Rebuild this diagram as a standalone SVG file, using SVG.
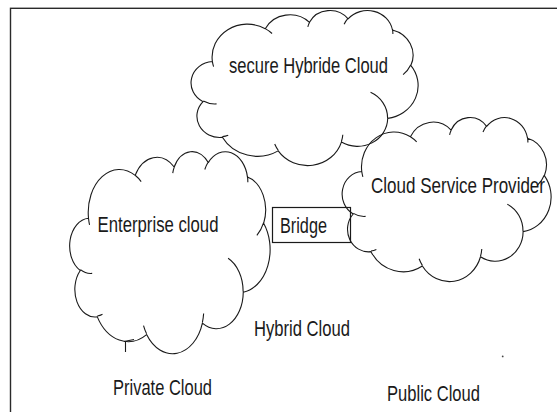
<svg xmlns="http://www.w3.org/2000/svg" xmlns:xlink="http://www.w3.org/1999/xlink" width="557" height="412" viewBox="0 0 557 412">
  <defs>
    <style>
      .cloud { fill: none; stroke: #1a1a1a; stroke-width: 1.1; vector-effect: non-scaling-stroke; stroke-linejoin: round; }
      .frame { fill: none; stroke: #2a2a2a; stroke-width: 1.4; }
      .box { fill: none; stroke: #1a1a1a; stroke-width: 1.2; }
      .lbl { font-family: "Liberation Sans Narrow", "Liberation Sans", Arial, sans-serif; font-size: 21.5px; fill: #1a1a1a; }
    </style>
    <!-- Office-style cloud outline in a 43200 x 43200 unit box, plus its inner lobe strokes -->
    <path id="cloud" class="cloud" d="
      M 3900 14370
      A 6753 9190 0 0 1 14005 5202
      A 5333 7267 0 0 1 22457 3432
      A 4365 5945 0 0 1 29836 2482
      A 4857 6595 0 0 1 38322 5577
      A 5333 7273 0 0 1 41822 15461
      A 6775 9220 0 0 1 37407 30203
      A 5785 7867 0 0 1 28559 36814
      A 6752 9215 0 0 1 16484 39267
      A 7720 10543 0 0 1 5807 35473
      A 4360 5918 0 0 1 2117 25549
      A 4345 5945 0 0 1 3900 14370 Z
      M 4693 26177 A 4345 5945 0 0 1 2160 25380
      M 6928 34899 A 4360 5918 0 0 1 5819 35281
      M 16478 39090 A 6752 9215 0 0 1 15810 37347
      M 28827 34751 A 6752 9215 0 0 1 28560 36660
      M 34129 22954 A 5785 7867 0 0 1 37381 30090
      M 41798 15354 A 5333 7273 0 0 1 40350 18030
      M 38324 5426 A 4857 6595 0 0 1 38400 6690
      M 29078 3952 A 4857 6595 0 0 1 29820 2340
      M 22141 4720 A 4365 5945 0 0 1 22500 3331
      M 14000 5192 A 6753 9190 0 0 1 15302 6543
      M 4127 15789 A 6753 9190 0 0 1 3900 14370"/>
  </defs>

  <rect width="557" height="412" fill="#ffffff"/>

  <!-- outer frame, running off the right and bottom edges -->
  <rect class="frame" x="10.5" y="8.3" width="600" height="460"/>

  <g id="secure-hybride-cloud">
    <use xlink:href="#cloud" href="#cloud" transform="translate(192,10) scale(0.0052315,0.0035880)"/>
    <text class="lbl" x="229" y="72.5" textLength="159" lengthAdjust="spacingAndGlyphs">secure Hybride Cloud</text>
  </g>

  <g id="enterprise-cloud">
    <use xlink:href="#cloud" href="#cloud" transform="translate(70.5,151) scale(0.0046181,0.0046759)"/>
    <path class="cloud" d="M 125.5 341 V 352 M 124 341.5 L 134 339.5"/>
    <text class="lbl" x="97.5" y="231.5" textLength="121" lengthAdjust="spacingAndGlyphs">Enterprise cloud</text>
  </g>

  <g id="cloud-service-provider">
    <use xlink:href="#cloud" href="#cloud" transform="translate(343,117) scale(0.0048148,0.0037963)"/>
    <text class="lbl" x="371" y="193" textLength="174" lengthAdjust="spacingAndGlyphs">Cloud Service Provider</text>
  </g>

  <g id="bridge">
    <rect class="box" x="272.5" y="207.5" width="78" height="35"/>
    <text class="lbl" x="280" y="233.3" textLength="47" lengthAdjust="spacingAndGlyphs">Bridge</text>
  </g>

  <g id="area-labels">
    <text class="lbl" x="254" y="336" textLength="96" lengthAdjust="spacingAndGlyphs">Hybrid Cloud</text>
    <text class="lbl" x="113" y="395" textLength="99" lengthAdjust="spacingAndGlyphs">Private Cloud</text>
    <text class="lbl" x="387" y="401" textLength="93" lengthAdjust="spacingAndGlyphs">Public Cloud</text>
  </g>

  <circle cx="502.7" cy="356.4" r="0.9" fill="#444444"/>
</svg>
